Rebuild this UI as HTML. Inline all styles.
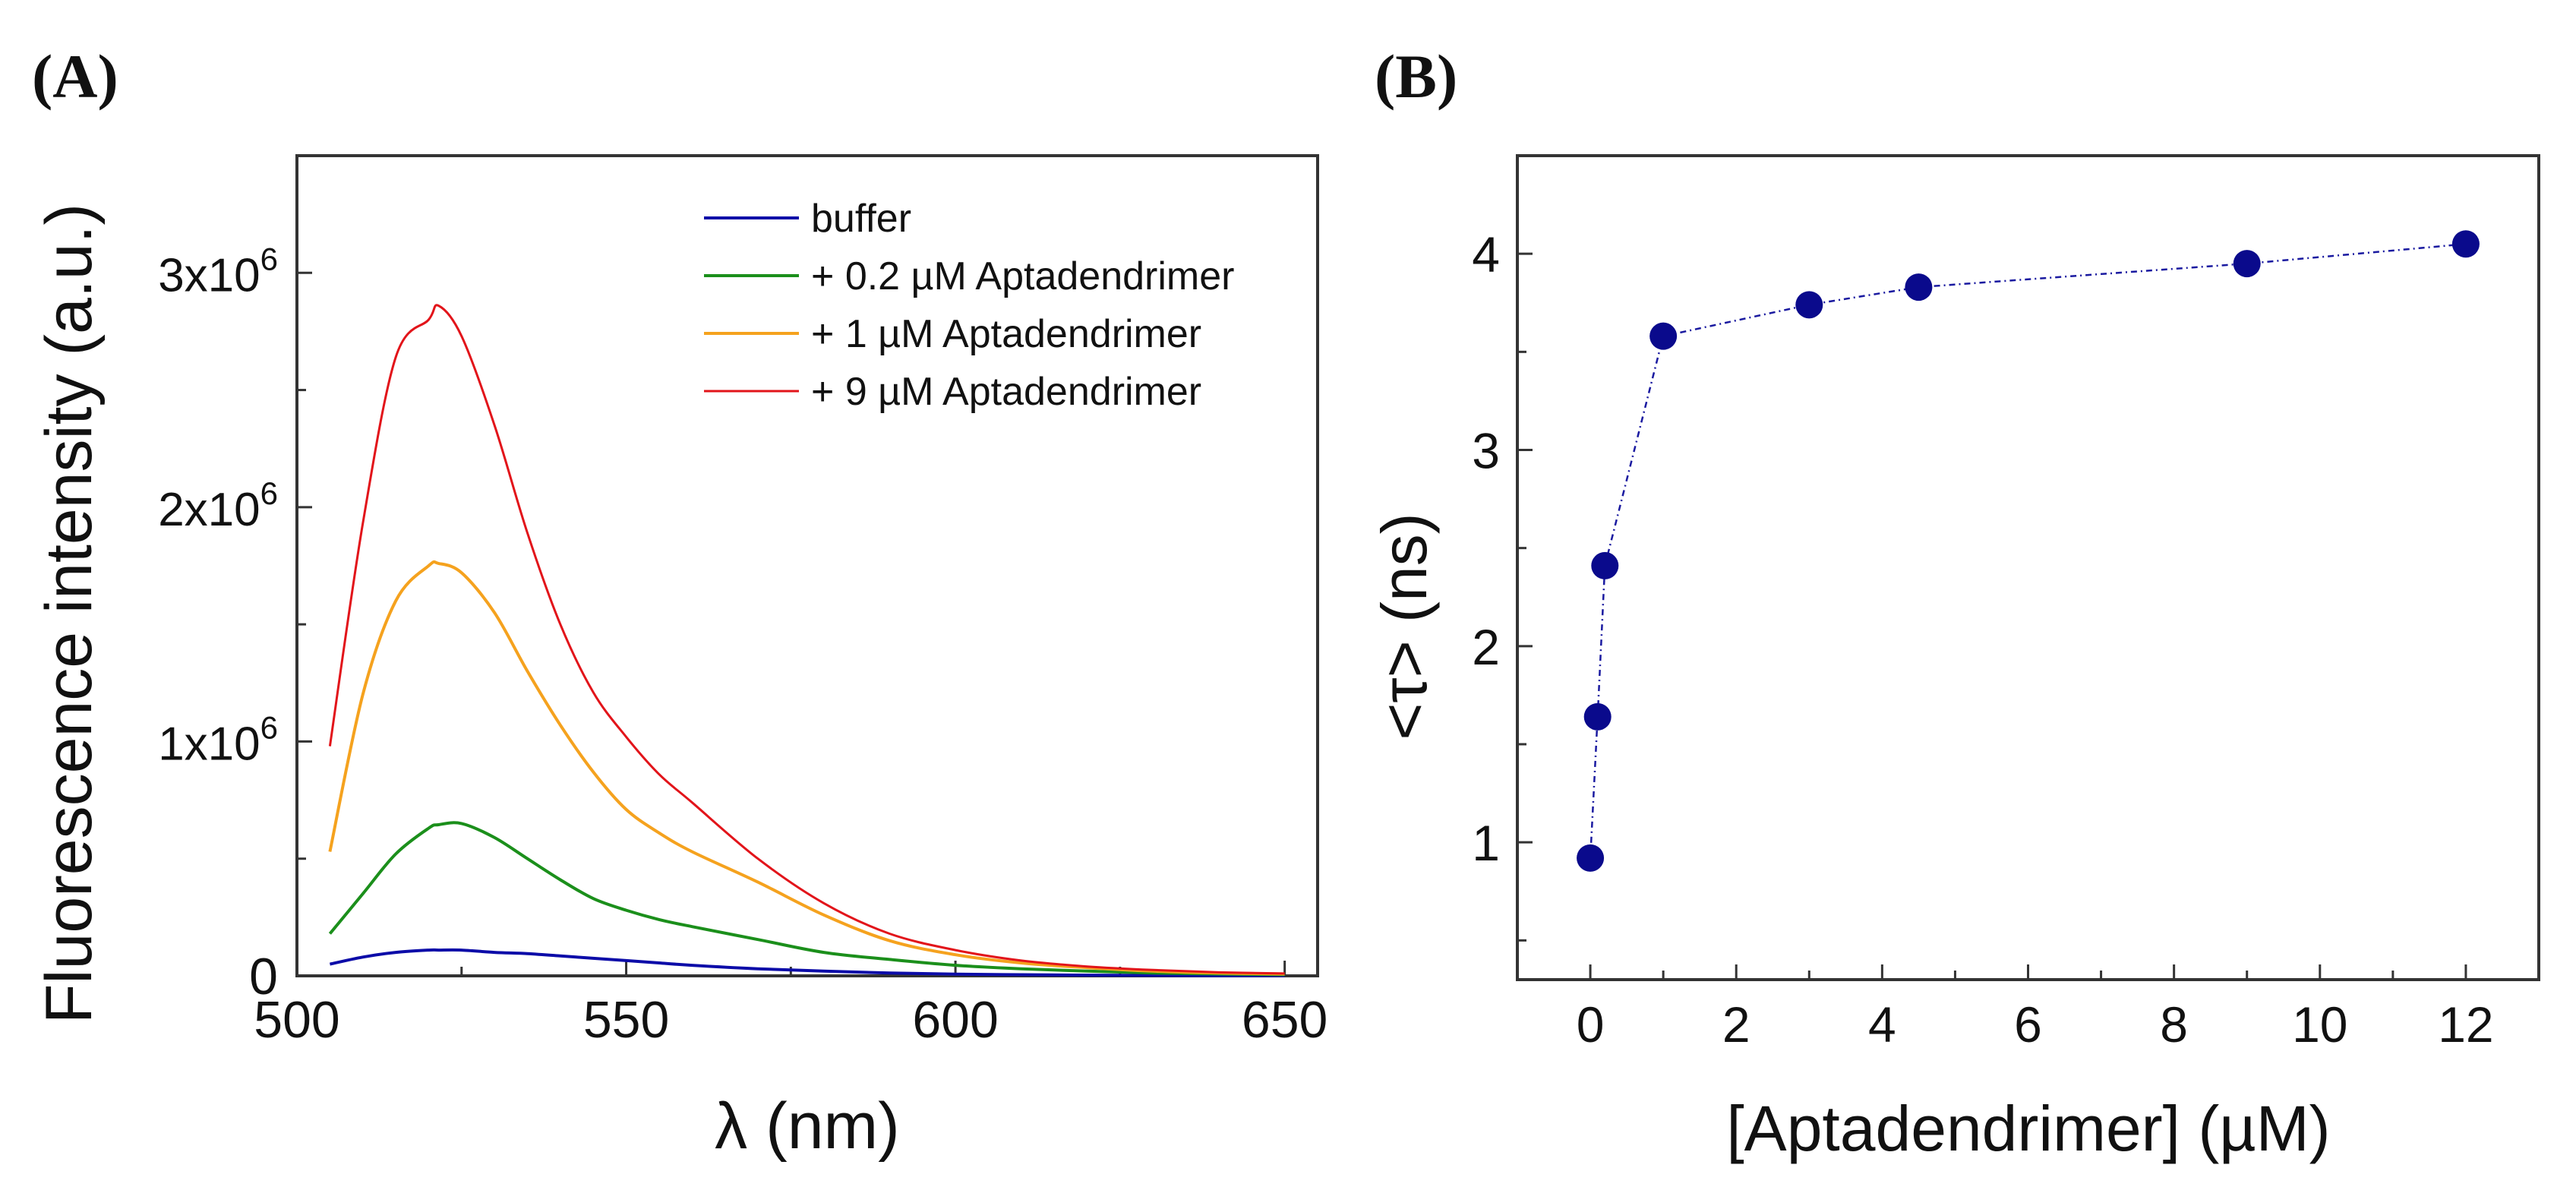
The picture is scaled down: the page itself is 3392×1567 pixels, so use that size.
<!DOCTYPE html>
<html><head><meta charset="utf-8"><style>
html,body{margin:0;padding:0;background:#fff}
svg{display:block}
text{font-family:"Liberation Sans",sans-serif;fill:#111}
</style></head><body>
<svg id="fig" width="3392" height="1567" viewBox="0 0 3392 1567">
<text x="42" y="128" style="font-family:'Liberation Serif',serif;font-weight:bold;font-size:82px">(A)</text>
<text x="1810" y="128" style="font-family:'Liberation Serif',serif;font-weight:bold;font-size:82px">(B)</text>
<g id="ga"></g>
<g id="gb"></g>
</svg>
<script>
const wl=[505,510,515,520,521.5,525,530,535,540,545,550,555,560,570,580,590,600,610,620,630,640,650];
const buffer=[0.05,0.08,0.10,0.11,0.11,0.11,0.10,0.095,0.085,0.075,0.065,0.055,0.045,0.03,0.02,0.012,0.007,0.005,0.003,0.002,0.001,0.001];
const c02=[0.18,0.35,0.52,0.63,0.645,0.65,0.59,0.50,0.41,0.33,0.28,0.24,0.21,0.155,0.10,0.07,0.045,0.03,0.02,0.012,0.008,0.005];
const c1=[0.53,1.2,1.6,1.75,1.76,1.72,1.55,1.3,1.07,0.87,0.71,0.61,0.53,0.40,0.26,0.15,0.09,0.055,0.035,0.02,0.012,0.008];
const c9=[0.98,1.93,2.64,2.80,2.86,2.73,2.35,1.89,1.50,1.21,1.02,0.86,0.74,0.50,0.31,0.18,0.11,0.065,0.04,0.025,0.015,0.01];
const seriesNames=["buffer","+ 0.2 \u00b5M Aptadendrimer","+ 1 \u00b5M Aptadendrimer","+ 9 \u00b5M Aptadendrimer"];
const aXTicks=[500,550,600,650];
const aYTicks=[0,1,2,3];
const conc=[0,0.1,0.2,1,3,4.5,9,12];
const tau=[0.92,1.64,2.41,3.58,3.74,3.83,3.95,4.05];
const bXTicks=[0,2,4,6,8,10,12];
const bYTicks=[1,2,3,4];

const NS="http://www.w3.org/2000/svg";
function mk(p,tag,at,txt){const e=document.createElementNS(NS,tag);for(const k in at)e.setAttribute(k,at[k]);if(txt!==undefined)e.textContent=txt;p.appendChild(e);return e;}
function smooth(P){let d='M'+P[0][0].toFixed(1)+','+P[0][1].toFixed(1);
for(let i=0;i<P.length-1;i++){const p0=P[Math.max(0,i-1)],p1=P[i],p2=P[i+1],p3=P[Math.min(P.length-1,i+2)];
const c1x=p1[0]+(p2[0]-p0[0])/6,c1y=p1[1]+(p2[1]-p0[1])/6,c2x=p2[0]-(p3[0]-p1[0])/6,c2y=p2[1]-(p3[1]-p1[1])/6;
d+=' C'+c1x.toFixed(1)+','+c1y.toFixed(1)+' '+c2x.toFixed(1)+','+c2y.toFixed(1)+' '+p2[0].toFixed(1)+','+p2[1].toFixed(1);}
return d;}

// Panel A
const A={l:391,r:1735,t:205,b:1285};
const ax=v=>A.l+(v-500)*(A.r-A.l)/155;
const ay=v=>A.b-v*(A.b-A.t)/3.5;
const ga=document.getElementById('ga');
let fr=mk(ga,'rect',{x:A.l,y:A.t,width:A.r-A.l,height:A.b-A.t,fill:'none',stroke:'#333','stroke-width':4});


for(let v=500;v<=650;v+=25){const maj=v%50===0;let t=mk(ga,'line',{x1:ax(v),x2:ax(v),y1:A.b,y2:A.b-(maj?20:12),stroke:'#333','stroke-width':3});

}
aXTicks.forEach(v=>{let t=mk(ga,'text',{x:ax(v),y:1366,'text-anchor':'middle','font-size':68},String(v));

});
for(let v=0;v<=3.01;v+=0.5){const maj=Math.abs(v-Math.round(v))<0.01;let t=mk(ga,'line',{x1:A.l,x2:A.l+(maj?20:12),y1:ay(v),y2:ay(v),stroke:'#333','stroke-width':3});

}
aYTicks.forEach(v=>{let t;
if(v===0){t=mk(ga,'text',{x:366,y:ay(v)+24,'text-anchor':'end','font-size':68},'0');}
else{t=mk(ga,'text',{x:366,y:ay(v)+24,'text-anchor':'end','font-size':62});
mk(t,'tspan',{},v+'x10');mk(t,'tspan',{dy:-28,'font-size':42},'6');}

});
let yt=mk(ga,'text',{x:0,y:0,transform:'translate(120,808) rotate(-90)','text-anchor':'middle','font-size':86},'Fluorescence intensity (a.u.)');


let xt=mk(ga,'text',{x:1063,y:1512,'text-anchor':'middle','font-size':86},'\u03bb (nm)');


const series=[buffer,c02,c1,c9];
const colors=['#0c0ca8','#1b8f1b','#f5a21e','#e2141a'];
const widths=[4,4,4,3];
series.forEach((s,i)=>{const P=wl.map((w,j)=>[ax(w),ay(s[j])]);
let pl=mk(ga,'path',{d:smooth(P),fill:'none',stroke:colors[i],'stroke-width':widths[i],'stroke-linejoin':'round'});


const ly=287+i*76;
let ll=mk(ga,'line',{x1:927,x2:1052,y1:ly,y2:ly,stroke:colors[i],'stroke-width':widths[i]});


let lt=mk(ga,'text',{x:1068,y:ly+18,'font-size':52},seriesNames[i]);

});

// Panel B
const B={l:1998,r:3343,t:205,b:1290};
const bx=v=>B.l+(v+1)*(B.r-B.l)/14;
const by=v=>B.b-(v-0.3)*(B.b-B.t)/4.2;
const gb=document.getElementById('gb');
let fb=mk(gb,'rect',{x:B.l,y:B.t,width:B.r-B.l,height:B.b-B.t,fill:'none',stroke:'#333','stroke-width':4});


for(let v=0;v<=12;v++){const maj=v%2===0;let t=mk(gb,'line',{x1:bx(v),x2:bx(v),y1:B.b,y2:B.b-(maj?20:12),stroke:'#333','stroke-width':3});

}
bXTicks.forEach(v=>{let t=mk(gb,'text',{x:bx(v),y:1372,'text-anchor':'middle','font-size':66},String(v));

});
for(let v=0.5;v<=4.01;v+=0.5){const maj=Math.abs(v-Math.round(v))<0.01;let t=mk(gb,'line',{x1:B.l,x2:B.l+(maj?20:12),y1:by(v),y2:by(v),stroke:'#333','stroke-width':3});

}
bYTicks.forEach(v=>{let t=mk(gb,'text',{x:1975,y:by(v)+24,'text-anchor':'end','font-size':66},String(v));

});
let ybt=mk(gb,'text',{x:0,y:0,transform:'translate(1878,825) rotate(-90)','text-anchor':'middle','font-size':84},'<\u03c4> (ns)');


let xbt=mk(gb,'text',{x:2671,y:1515,'text-anchor':'middle','font-size':84},'[Aptadendrimer] (\u00b5M)');


let cl=mk(gb,'polyline',{points:conc.map((c,j)=>bx(c).toFixed(1)+','+by(tau[j]).toFixed(1)).join(' '),fill:'none',stroke:'#1a1aa0','stroke-width':2.5,'stroke-dasharray':'8 5 2 5'});


conc.forEach((c,j)=>{let p=mk(gb,'circle',{cx:bx(c),cy:by(tau[j]),r:18,fill:'#0a0a8c'});

});
</script>
</body></html>
